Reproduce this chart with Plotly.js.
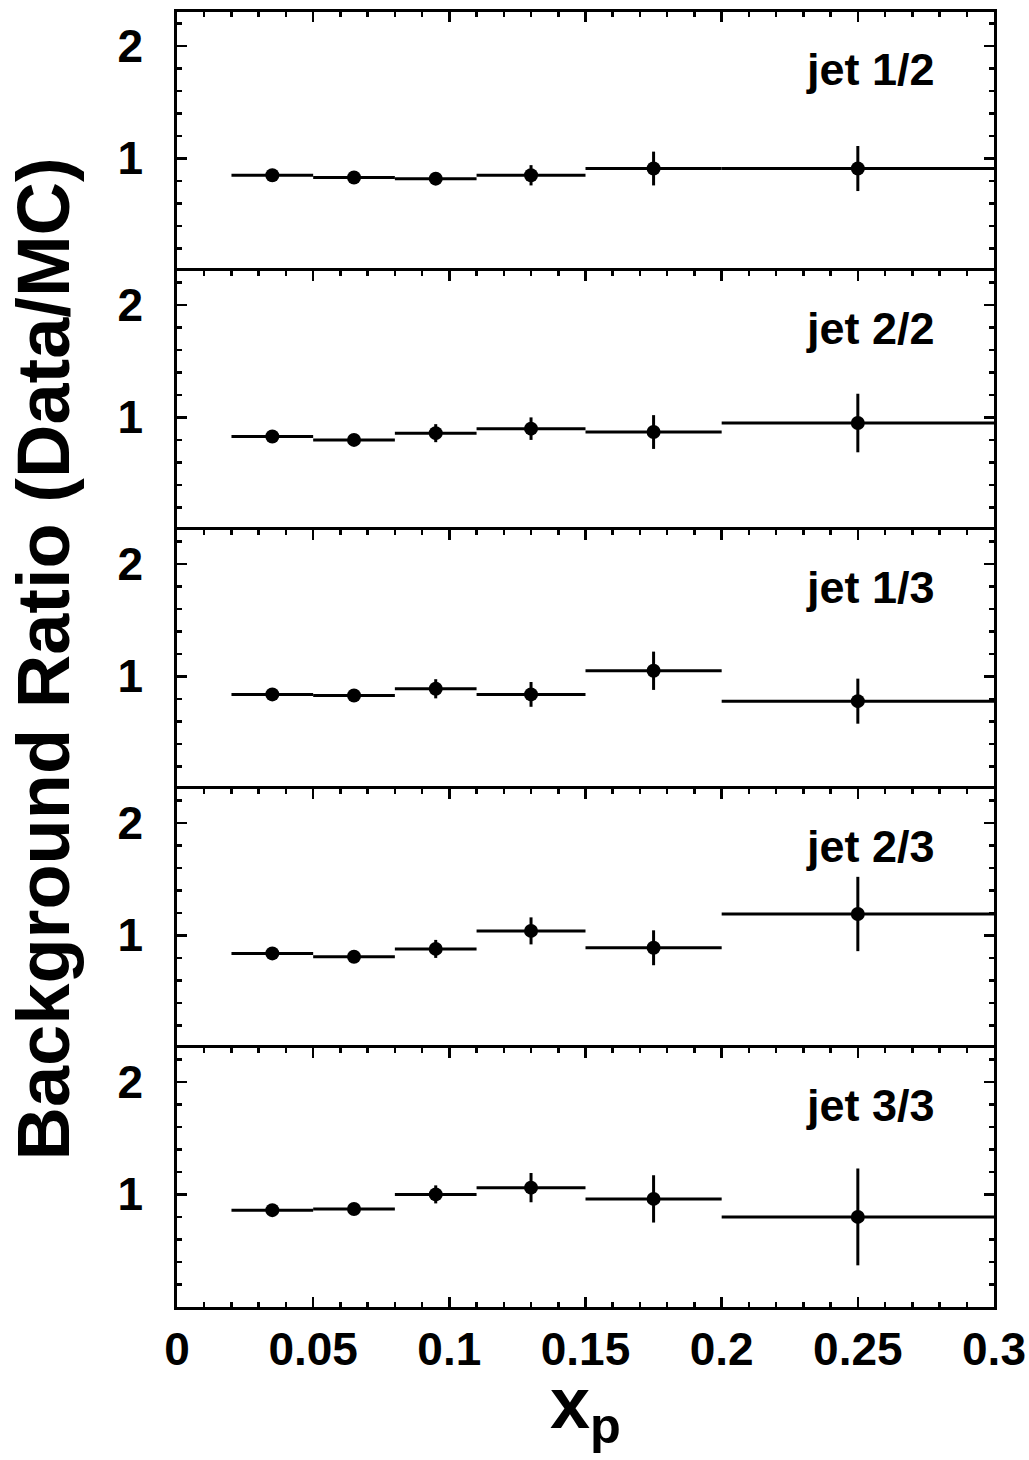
<!DOCTYPE html>
<html>
<head>
<meta charset="utf-8">
<script src="https://cdn.plot.ly/plotly-3.0.1.min.js"></script>
<style>html,body{margin:0;padding:0;background:#fff;}</style>
</head>
<body>
<div id="chart" style="width:1029px;height:1460px;"></div>
<script>
// ---- data ----
const xCenters    = [0.035, 0.065, 0.095, 0.13, 0.175, 0.25];
const xHalfWidths = [0.015, 0.015, 0.015, 0.02, 0.025, 0.05];
const panelLabels = ['jet 1/2', 'jet 2/2', 'jet 1/3', 'jet 2/3', 'jet 3/3'];

const ratioJet12 = [0.85, 0.83, 0.82, 0.85, 0.91, 0.91];
const errJet12   = [0.03, 0.03, 0.04, 0.09, 0.15, 0.20];
const ratioJet22 = [0.83, 0.80, 0.86, 0.90, 0.87, 0.95];
const errJet22   = [0.03, 0.03, 0.08, 0.10, 0.15, 0.26];
const ratioJet13 = [0.84, 0.83, 0.89, 0.84, 1.05, 0.78];
const errJet13   = [0.03, 0.03, 0.085, 0.11, 0.17, 0.20];
const ratioJet23 = [0.84, 0.81, 0.88, 1.04, 0.89, 1.19];
const errJet23   = [0.03, 0.03, 0.08, 0.12, 0.155, 0.33];
const ratioJet33 = [0.86, 0.87, 1.00, 1.06, 0.96, 0.80];
const errJet33   = [0.03, 0.03, 0.08, 0.13, 0.21, 0.43];

const xTickVals = [0, 0.05, 0.1, 0.15, 0.2, 0.25, 0.3];
const xTickText = ['0', '0.05', '0.1', '0.15', '0.2', '0.25', '0.3'];
const yTickVals = [1, 2];
const yTickText = ['1', '2'];

const ratios = [ratioJet12, ratioJet22, ratioJet13, ratioJet23, ratioJet33];
const errs   = [errJet12, errJet22, errJet13, errJet23, errJet33];

// ---- build ----
const FONT = 'Liberation Sans, Arial, Helvetica, sans-serif';
const N = 5;
const traces = [];
const layout = {
  width: 1029, height: 1460,
  margin: {l: 177, r: 35, t: 12, b: 153},
  paper_bgcolor: '#fff', plot_bgcolor: '#fff',
  showlegend: false,
  font: {family: FONT, color: '#000', weight: 700},
  annotations: []
};

for (let i = 0; i < N; i++) {
  const k = i + 1;
  const xa = 'x' + k, ya = 'y' + k;
  traces.push({
    type: 'scatter', mode: 'markers',
    x: xCenters, y: ratios[i],
    xaxis: xa, yaxis: ya,
    marker: {color: '#000', size: 14, symbol: 'circle'},
    error_x: {type: 'data', array: xHalfWidths, visible: true, width: 0, thickness: 3, color: '#000'},
    error_y: {type: 'data', array: errs[i], visible: true, width: 0, thickness: 3, color: '#000'},
    hoverinfo: 'x+y'
  });
  const bottom = (i === N - 1);
  const top = 1 - i / N, bot = 1 - (i + 1) / N;
  layout['xaxis' + k] = {
    domain: [0, 1], anchor: ya,
    range: [0, 0.3],
    side: bottom ? 'bottom' : 'top',
    showline: true, linewidth: 2.8, linecolor: '#000',
    mirror: bottom ? 'ticks' : false,
    ticks: 'inside', ticklen: 10, tickwidth: 2.5, tickcolor: '#000',
    tickmode: 'array', tickvals: xTickVals, ticktext: xTickText,
    showticklabels: bottom,
    tickfont: {family: FONT, size: 46, color: '#000', weight: 700},
    minor: {tickmode: 'linear', tick0: 0, dtick: 0.01, ticks: 'inside', ticklen: 5, tickwidth: 2.5, tickcolor: '#000', showgrid: false},
    showgrid: false, zeroline: false,
    matches: k === 1 ? undefined : 'x'
  };
  layout['yaxis' + k] = {
    domain: [bot, top], anchor: xa,
    range: [0, 2.3],
    showline: true, linewidth: 2.8, linecolor: '#000', mirror: 'ticks',
    ticks: 'inside', ticklen: 10, tickwidth: 2.5, tickcolor: '#000',
    tickmode: 'array', tickvals: yTickVals, ticktext: yTickText,
    tickfont: {family: FONT, size: 46, color: '#000', weight: 700},
    ticklabelstandoff: 22,
    minor: {tickmode: 'linear', tick0: 0, dtick: 0.2, ticks: 'inside', ticklen: 5, tickwidth: 2.5, tickcolor: '#000', showgrid: false},
    showgrid: false, zeroline: false
  };
  layout.annotations.push({
    text: panelLabels[i], xref: xa, yref: ya,
    x: 0.279, y: 1.79, xanchor: 'right', yanchor: 'middle',
    showarrow: false,
    font: {family: FONT, size: 45, color: '#000', weight: 700}
  });
}
layout.annotations.push({
  text: 'Background Ratio (Data/MC)', xref: 'paper', yref: 'paper',
  x: -0.164, y: 0.5, xanchor: 'center', yanchor: 'middle',
  textangle: -90, showarrow: false,
  font: {family: FONT, size: 74, color: '#000', weight: 700}
});
layout.annotations.push({
  text: 'x<sub>p</sub>', xref: 'paper', yref: 'paper',
  x: 0.5, y: 0, xanchor: 'center', yanchor: 'top', yshift: -54,
  showarrow: false,
  font: {family: FONT, size: 72, color: '#000', weight: 700}
});

Plotly.newPlot('chart', traces, layout, {displayModeBar: false, staticPlot: true});
</script>
</body>
</html>
